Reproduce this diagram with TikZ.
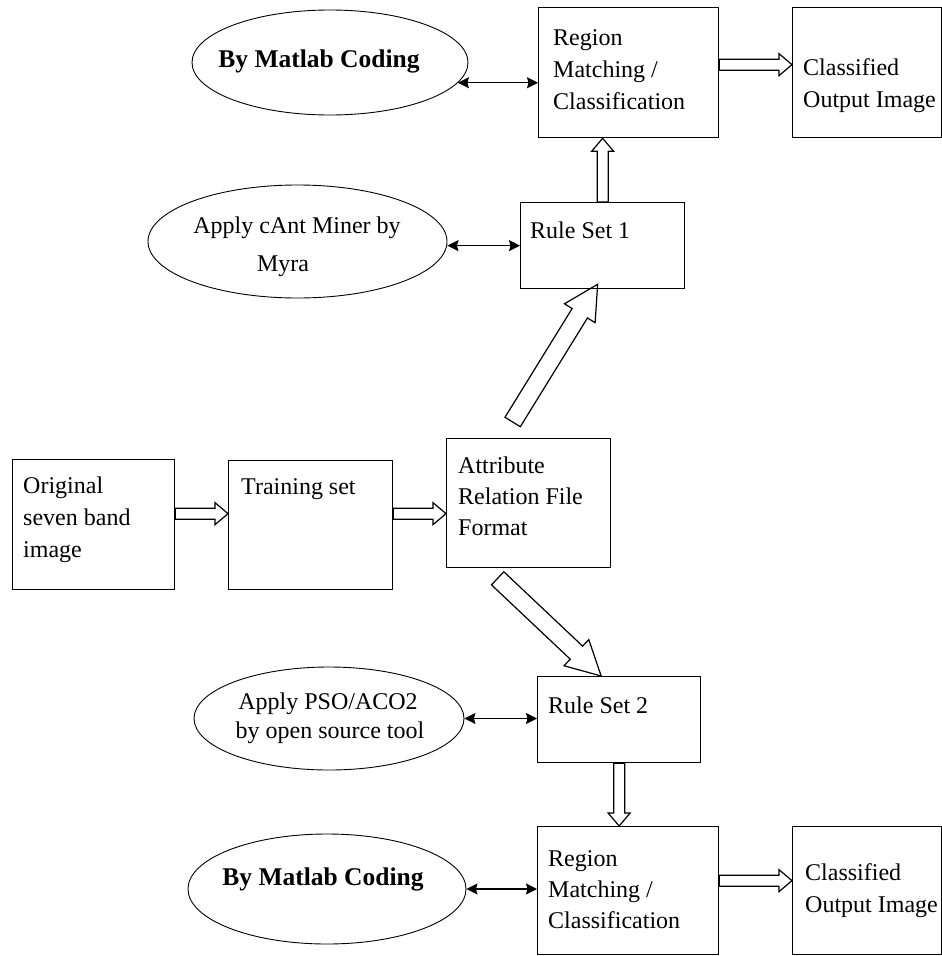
\documentclass[tikz,border=0pt]{standalone}
\usepackage{fontspec}
\setmainfont{Liberation Serif}
\usetikzlibrary{calc,shapes.geometric,arrows.meta}
\begin{document}
\begin{tikzpicture}[x=1pt,y=1pt,
  box/.style 2 args={draw, line width=1.3pt, inner sep=0pt, anchor=north west,
                     minimum width=#1pt, minimum height=#2pt},
  ell/.style 2 args={draw, ellipse, line width=0.9pt, inner sep=0pt,
                     minimum width=#1pt, minimum height=#2pt},
  txt/.style={anchor=base west, inner sep=0pt, font=\fontsize{24}{32}\selectfont},
  ctxt/.style={anchor=base, inner sep=0pt, font=\fontsize{24}{32}\selectfont},
  btxt/.style={anchor=base, inner sep=0pt, font=\fontsize{25.5}{32}\selectfont\bfseries},
  dbl/.style={line width=1.3pt,
    {Stealth[length=11pt,width=11pt,inset=1.5pt]}-{Stealth[length=11pt,width=11pt,inset=1.5pt]}},
  % outlined block arrow: shaft half-width, head half-width, head length
  hollow/.style n args={3}{line width=1.2pt, line join=miter, to path={
    let \p1=(\tikztostart), \p2=(\tikztotarget),
        \n1={atan2(\y2-\y1,\x2-\x1)}, \n2={veclen(\x2-\x1,\y2-\y1)-#3} in
    ($(\p1)+({\n1+90}:#1)$) -- ($(\p1)+(\n1:\n2)+({\n1+90}:#1)$)
    -- ($(\p1)+(\n1:\n2)+({\n1+90}:#2)$) -- (\p2)
    -- ($(\p1)+(\n1:\n2)+({\n1-90}:#2)$) -- ($(\p1)+(\n1:\n2)+({\n1-90}:#1)$)
    -- ($(\p1)+({\n1-90}:#1)$) -- cycle}},
  harrow/.style={hollow={5.5}{11}{13}},
  darrow/.style={hollow={9}{18}{34}}
]
\useasboundingbox (0,0) rectangle (942,-956);

% boxes
\node[box={180}{130}] (rm1)   at (538,-7)   {};
\node[box={149}{130}] (co1)   at (792,-7)   {};
\node[box={164}{86}]  (rs1)   at (520,-202) {};
\node[box={162}{130}] (orig)  at (12,-459)  {};
\node[box={164}{129}] (train) at (228,-460) {};
\node[box={164}{129}] (arff)  at (446,-438) {};
\node[box={163}{86}]  (rs2)   at (537,-676) {};
\node[box={181}{128}] (rm2)   at (537,-826) {};
\node[box={149}{128}] (co2)   at (792,-826) {};

% ellipses
\node[ell={276}{105}] (e1) at (330,-62.5)  {};
\node[ell={299}{113}] (e2) at (297.5,-241.5) {};
\node[ell={270}{103}] (e3) at (329,-718.5) {};
\node[ell={278}{110}] (e4) at (327,-889)   {};

% box texts
\node[txt] (rm1a) at (553,-45)  {Region};
\node[txt] (rm1b) at (553,-77)  {Matching /};
\node[txt] (rm1c) at (553,-109) {Classification};
\node[txt] (co1a) at (803,-75)  {Classified};
\node[txt] (co1b) at (803,-107) {Output Image};
\node[txt] (rs1a) at (530,-238) {Rule Set 1};
\node[txt] (oria) at (23,-493)  {Original};
\node[txt] (orib) at (23,-525)  {seven band};
\node[txt] (oric) at (23,-557)  {image};
\node[txt] (tra)  at (241,-494) {Training set};
\node[txt] (arfa) at (458,-473) {Attribute};
\node[txt] (arfb) at (458,-504) {Relation File};
\node[txt] (arfc) at (458,-535) {Format};
\node[txt] (rs2a) at (548,-713) {Rule Set 2};
\node[txt] (rm2a) at (548,-866) {Region};
\node[txt] (rm2b) at (548,-897) {Matching /};
\node[txt] (rm2c) at (548,-928) {Classification};
\node[txt] (co2a) at (805,-880) {Classified};
\node[txt] (co2b) at (805,-912) {Output Image};

% ellipse texts
\node[btxt] (e1a) at (319,-67)  {By Matlab Coding};
\node[ctxt] (e2a) at (297,-233) {Apply cAnt Miner by};
\node[ctxt] (e2b) at (283,-271) {Myra};
\node[ctxt] (e3a) at (328,-709) {Apply PSO/ACO2};
\node[ctxt] (e3b) at (330,-738) {by open source tool};
\node[btxt] (e4a) at (323,-885) {By Matlab Coding};

% two-way links between ellipses and boxes
\draw[dbl] (e1.-9) -- (e1.-9 -| rm1.west);
\draw[dbl] (e2.east |- rs1.west) -- (rs1.west);
\draw[dbl] (e3.east) -- (e3.east -| rs2.west);
\draw[dbl] (e4.east) -- (e4.east -| rm2.west);

% block arrows
\draw[harrow] ([yshift=8pt]rm1.east) to ([yshift=8pt]rm1.east -| co1.west);
\draw[harrow] (rs1.north) to (rs1.north |- rm1.south);
\draw[harrow] ([yshift=11pt]orig.east) to ([yshift=11pt]orig.east -| train.west);
\draw[harrow] ([yshift=11.5pt]train.east) to ([yshift=11.5pt]train.east -| arff.west);
\draw[darrow] ([shift={(-16pt,16pt)}]arff.north) to ([shift={(-5pt,5pt)}]rs1.south);
\draw[darrow] ([shift={(-31pt,-10pt)}]arff.south) to ([shift={(-18pt,0pt)}]rs2.north);
\draw[harrow] (rs2.south) to (rs2.south |- rm2.north);
\draw[harrow] ([yshift=10pt]rm2.east) to ([yshift=10pt]rm2.east -| co2.west);
\end{tikzpicture}
\end{document}
